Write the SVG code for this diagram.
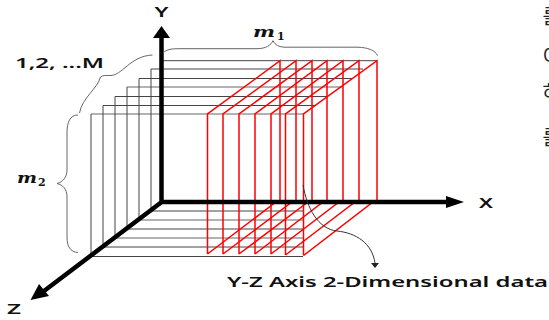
<svg xmlns="http://www.w3.org/2000/svg" width="549" height="320" viewBox="0 0 549 320">
<style>
text{font-family:"Noto Sans","DejaVu Sans",sans-serif;font-weight:600;fill:#111}
.m{font-family:"DejaVu Serif",serif;font-style:italic;font-weight:700;font-size:15px}
.s{font-family:"DejaVu Serif",serif;font-weight:700;font-size:11px}
.c{font-family:"Noto Sans CJK KR",sans-serif;font-weight:400;font-size:20px;fill:#222}
.k{fill:none;stroke:#444;stroke-width:1}
.g{fill:none;stroke:#999;stroke-width:1.5}
.r{fill:none;stroke:#f00;stroke-width:1.5}
.b{fill:none;stroke:#666;stroke-width:1}
.a{fill:none;stroke:#000;stroke-width:4.500}
</style>
<rect width="549" height="320" fill="#fff"/>
<g id="xy-planes">
<path class="k" d="M163 60.700H377M151 69H363M139 78.500H352M115 96.500H327M103 105.500H316"/>
<path class="g" d="M127 87H342M91 114H303"/>
<path class="k" d="M91 114V256M103 105.500V247M115 96.500V238M127 87V229M139 78.500V220M151 69V211"/>
<path class="k" d="M152 211H303M128 229H303M104 247H303M91 256.500H303"/>
<path class="g" d="M140 220H303M116 238H303"/>
</g>
<g id="yz-planes">
<path class="r" d="M207.500 254V114L280 60.700V202L276 202L207.500 254"/>
<path class="r" d="M223 254V114L296 60.700V202L292 202L223 254"/>
<path class="r" d="M239 254V114L312 60.700V202L308 202L239 254"/>
<path class="r" d="M255 254V114L327 60.700V202L323 202L255 254"/>
<path class="r" d="M271 254V114L343 60.700V202L339 202L271 254"/>
<path class="r" d="M285.500 255V114L359 60.700V202L355 202L285.500 255"/>
<path class="r" d="M303.500 255.500V114L377 60.700V202L373 202L303.500 255.500"/>
</g>
<g id="connectors">
<path class="a" d="M161.500 36V202M160 202H448M163 201L44 291"/>
<path d="M161.500 26L170 38H153Z"/>
<path d="M464 202L446 196V208Z"/>
<path d="M30.500 300L39 284L49 296Z"/>
<path class="b" d="M163 53C167 49 172 48.700 180 48.700H257C266 48.700 271 45 273 40.700C275 45 279 47 285 47.200H358C367 47.500 375 50 377.500 55.500"/>
<path class="b" d="M152.500 55C130 56 122 76 110 75.500C106 75.500 103 75 100.500 77C98 88 82 98 79.500 113"/>
<path class="b" d="M78 115C70 115 67 122 67 133V170C67 177 63 182 57 183.500C63 185 67 189 67 197V237C67 246 70 252 78 252.500"/>
<path class="b" style="stroke:#333" d="M303 185C307 208 318 229 337 231C356 233 372 243 375 263"/>
<path d="M375 268L371 263H379Z" fill="#222"/>
</g>
<g id="labels">
<text x="161.500" y="17" font-size="15" text-anchor="middle" textLength="14" lengthAdjust="spacingAndGlyphs">Y</text>
<text x="15" y="68" font-size="15" textLength="89" lengthAdjust="spacingAndGlyphs">1,2, ...M</text>
<text x="486" y="207.500" font-size="15" text-anchor="middle" textLength="14" lengthAdjust="spacingAndGlyphs">X</text>
<text x="14" y="314" font-size="15" text-anchor="middle" textLength="14" lengthAdjust="spacingAndGlyphs">Z</text>
<text x="227" y="287" font-size="15" textLength="321" lengthAdjust="spacingAndGlyphs">Y-Z Axis 2-Dimensional data</text>
<text class="m" x="253" y="37" textLength="22" lengthAdjust="spacingAndGlyphs">m</text>
<text class="s" x="277" y="40">1</text>
<text class="m" x="17" y="183" textLength="20" lengthAdjust="spacingAndGlyphs">m</text>
<text class="s" x="38" y="186">2</text>
<text class="c" x="542.500" y="24">를</text>
<text class="c" x="542.500" y="64">이</text>
<text class="c" x="542.500" y="100">하</text>
<text class="c" x="542.500" y="145">를</text>
</g>
</svg>
